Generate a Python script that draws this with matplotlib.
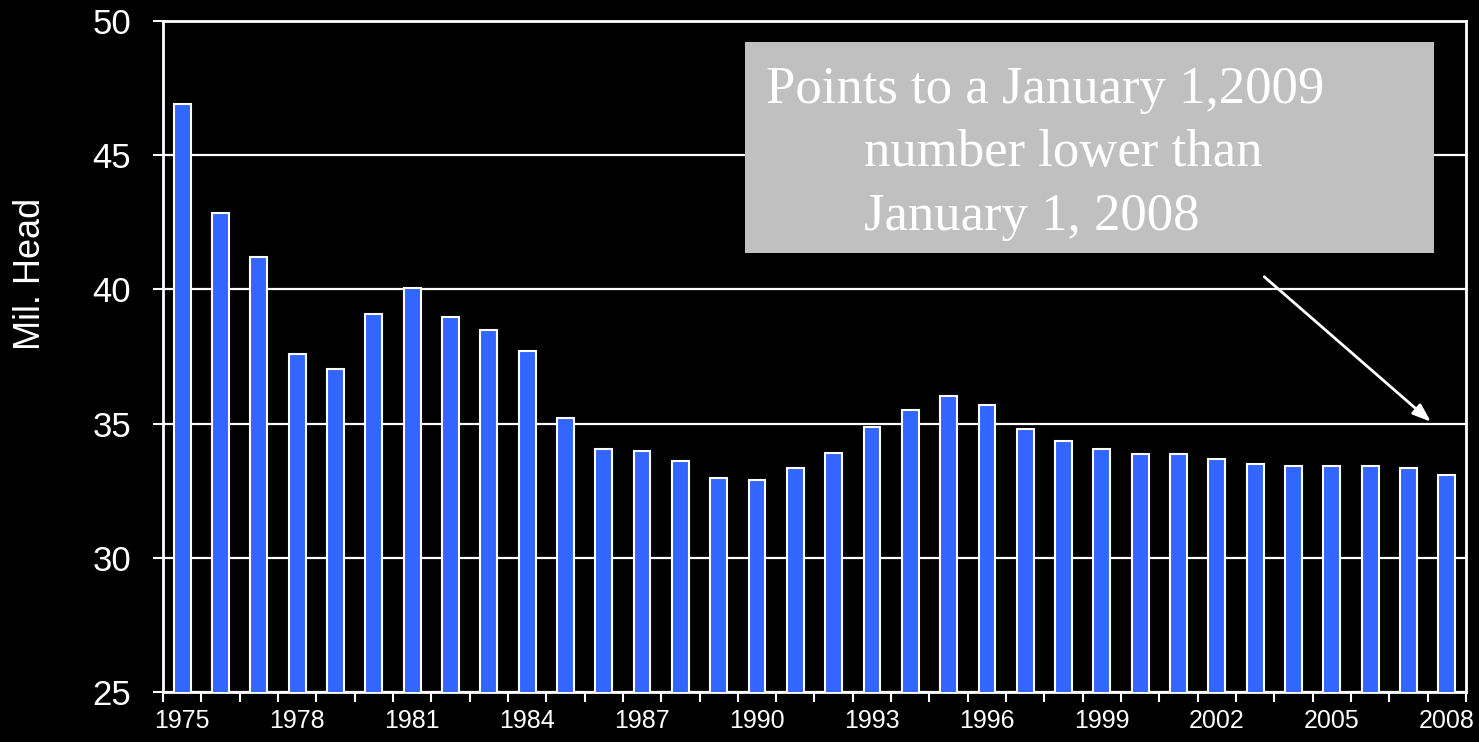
import matplotlib
matplotlib.use("Agg")
import matplotlib.pyplot as plt
from matplotlib.patches import Rectangle
import numpy as np

years = list(range(1975, 2009))
values = [46.9, 42.84, 41.2, 37.6, 37.05, 39.1, 40.04, 38.96, 38.5, 37.7,
          35.22, 34.07, 33.99, 33.62, 32.99, 32.91, 33.36, 33.92, 34.89, 35.52,
          36.04, 35.7, 34.81, 34.37, 34.07, 33.88, 33.88, 33.69, 33.51, 33.43,
          33.43, 33.43, 33.36, 33.1]
ylabel = "Mil. Head"
note_lines = ["Points to a January 1,2009", "number lower than", "January 1, 2008"]

W, H = 1479, 742
fig = plt.figure(figsize=(W / 100, H / 100), dpi=100, facecolor="black")
L, R, T, B = 163, 1466, 21, 692
ax = fig.add_axes([L / W, 1 - B / H, (R - L) / W, (B - T) / H], facecolor="black")

x = np.arange(len(years))
ax.bar(x, values, width=0.44, color="#3366FF", edgecolor="white", linewidth=1.5, zorder=3)

ax.set_xlim(-0.5, len(years) - 0.5)
ax.set_ylim(25, 50)
ax.set_yticks([25, 30, 35, 40, 45, 50])
ax.yaxis.grid(True, color="white", linewidth=1.6, zorder=0)
ax.set_axisbelow(True)

for s in ax.spines.values():
    s.set_color("white")
    s.set_linewidth(2)

ax.set_xticks(x[::3])
ax.set_xticklabels([str(y) for y in years[::3]], fontfamily="Liberation Sans", fontsize=18, color="white")
ax.set_xticks(np.arange(-0.5, len(years)), minor=True)
ax.tick_params(axis="x", which="major", length=0, pad=12)
ax.tick_params(axis="x", which="minor", length=7, width=1.5, color="white", direction="out")
ax.tick_params(axis="y", length=7, width=1.5, color="white", direction="out", pad=16,
               labelsize=25, labelcolor="white")
for lab in ax.get_yticklabels():
    lab.set_fontfamily("Liberation Sans")

fig.text(31 / W, 1 - 274 / H, ylabel, rotation=90, ha="center", va="center",
         color="white", fontsize=26, fontfamily="Liberation Sans")

# annotation box
bx0, by0, bx1, by1 = 745, 42, 1434, 253
fig.add_artist(Rectangle((bx0 / W, 1 - by1 / H), (bx1 - bx0) / W, (by1 - by0) / H,
                         transform=fig.transFigure, facecolor="#C0C0C0", edgecolor="none", zorder=5))
pos = [(766, 103), (864, 166), (864, 230)]
for (px, py), line in zip(pos, note_lines):
    fig.text(px / W, 1 - py / H, line, ha="left", va="baseline", color="white",
             fontsize=38, fontfamily="Liberation Serif", zorder=6)

ax.annotate("", xy=(32.64, 35.0), xytext=(28.18, 40.54),
            arrowprops=dict(arrowstyle="-|>,head_length=1.1,head_width=0.4", color="white", lw=2),
            zorder=6)

fig.savefig("out.png", dpi=100, facecolor="black")
